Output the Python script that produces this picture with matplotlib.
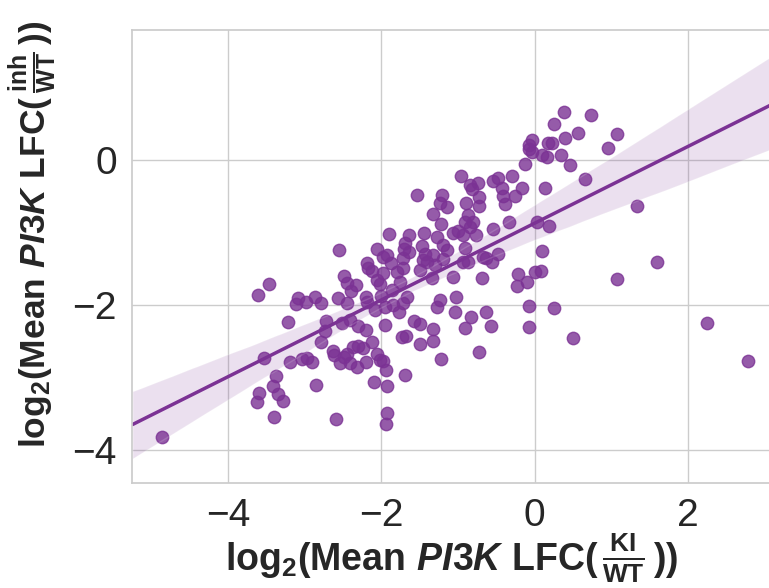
import numpy as np
import matplotlib
matplotlib.use('Agg')
import matplotlib.pyplot as plt
import seaborn as sns

# log2 mean PI3K LFC, KI vs WT (x) and inhibitor vs WT (y)
ki_lfc = [
    -4.86, -3.61, -3.47, -3.53, -3.37, -3.41, -3.35, -3.28, -3.60, -3.62,
    -3.40, -3.21, -3.19, -3.04, -2.97, -2.91, -2.85, -2.59, -3.09, -3.11,
    -2.98, -2.87, -2.79, -2.57, -2.45, -2.72, -2.74, -2.78, -2.51, -2.41,
    -2.31, -2.20, -2.63, -2.62, -2.54, -2.49, -2.45, -2.41, -2.37, -2.31,
    -2.24, -2.32, -2.20, -2.12, -2.06, -2.02, -1.98, -1.94, -2.10, -1.93,
    -1.69, -1.92, -1.94, -2.55, -2.48, -2.45, -2.33, -2.40, -2.20, -2.19,
    -2.18, -2.12, -2.05, -1.98, -1.93, -1.88, -1.98, -2.06, -2.02, -1.90,
    -1.86, -1.80, -1.76, -1.72, -1.72, -1.69, -1.71, -1.64, -1.64, -1.67,
    -1.85, -1.77, -1.95, -1.95, -1.72, -1.54, -1.45, -1.47, -1.43, -1.50,
    -1.46, -1.33, -1.28, -1.20, -1.20, -1.15, -1.33, -1.22, -1.21, -1.24,
    -1.15, -1.34, -1.41, -1.30, -1.24, -1.28, -1.02, -1.07, -1.04, -0.83,
    -0.63, -0.91, -0.57, -1.58, -1.50, -1.33, -1.73, -1.68, -1.33, -1.49,
    -1.22, -0.73, -0.96, -0.85, -0.74, -0.82, -0.55, -0.48, -0.43, -0.30,
    -0.42, -0.39, -0.26, -0.16, 0.14, -0.89, -0.72, -0.73, -0.87, -0.91,
    -0.81, -0.85, -1.07, -1.00, -0.94, -0.76, -0.55, -0.33, 0.03, 0.18,
    0.10, -0.91, -0.94, -0.87, -0.68, -0.63, -0.48, -0.56, -0.69, -0.22,
    -0.10, -0.23, 0.01, 0.08, -0.08, 0.25, -0.07, 0.50, -0.13, -0.04,
    -0.08, -0.07, -0.03, 0.17, 0.22, 0.10, 0.16, 0.34, 0.40, 0.25,
    0.38, 0.73, 0.56, 1.07, 0.95, 0.46, 0.66, 1.33, 1.60, 1.07,
    2.24, 2.78, -2.19, -2.08, -2.01,
]
inh_lfc = [
    -3.82, -1.86, -1.71, -2.73, -2.98, -3.12, -3.23, -3.32, -3.21, -3.34,
    -3.54, -2.23, -2.79, -2.74, -2.73, -2.79, -3.10, -3.57, -1.90, -1.99,
    -1.96, -1.89, -1.97, -1.90, -1.97, -2.22, -2.36, -2.51, -2.25, -2.21,
    -2.29, -2.34, -2.63, -2.69, -2.80, -2.72, -2.68, -2.80, -2.58, -2.57,
    -2.59, -2.86, -2.79, -2.51, -2.68, -2.76, -2.77, -2.90, -3.06, -3.12,
    -2.97, -3.49, -3.64, -1.24, -1.60, -1.70, -1.72, -1.81, -1.89, -1.42,
    -1.49, -1.53, -1.23, -1.34, -1.31, -1.42, -1.56, -1.66, -1.71, -1.02,
    -1.79, -1.54, -1.68, -1.49, -1.35, -1.14, -1.23, -1.27, -1.03, -1.89,
    -2.00, -2.10, -2.28, -2.03, -1.97, -0.48, -1.01, -1.19, -1.30, -1.52,
    -1.38, -1.31, -1.06, -1.17, -1.37, -1.24, -0.74, -0.88, -0.48, -0.59,
    -0.65, -1.63, -1.41, -1.45, -1.93, -2.03, -1.89, -1.61, -2.10, -2.17,
    -2.10, -2.32, -2.29, -2.22, -2.26, -2.33, -2.44, -2.43, -2.50, -2.54,
    -2.74, -2.65, -0.22, -0.34, -0.32, -0.40, -0.29, -0.25, -0.39, -0.22,
    -0.50, -0.61, -0.50, -0.39, -0.39, -0.59, -0.51, -0.63, -0.76, -0.86,
    -0.86, -0.92, -1.01, -0.98, -1.03, -1.03, -0.95, -0.86, -0.86, -0.91,
    -1.26, -1.21, -1.41, -1.41, -1.34, -1.35, -1.30, -1.41, -1.63, -1.57,
    -1.68, -1.74, -1.54, -1.53, -2.01, -2.04, -2.30, -2.46, -0.06, 0.28,
    0.21, 0.15, 0.11, 0.23, 0.23, 0.06, 0.04, 0.07, 0.30, 0.50,
    0.66, 0.62, 0.37, 0.36, 0.17, -0.07, -0.26, -0.63, -1.41, -1.64,
    -2.25, -2.77, -1.96, -2.07, -1.88,
]

xticks = [-4, -2, 0, 2]
yticks = [-4, -2, 0]
color = '#7b3294'

sns.set_theme(style='whitegrid')
plt.rcParams['font.family'] = ['Liberation Sans', 'DejaVu Sans']
plt.rcParams['mathtext.fontset'] = 'custom'
plt.rcParams['mathtext.rm'] = 'Liberation Sans:bold'
plt.rcParams['mathtext.bf'] = 'Liberation Sans:bold'
plt.rcParams['mathtext.it'] = 'Liberation Sans:italic:bold'

fig = plt.figure(figsize=(7.69, 5.88), dpi=100)
ax = fig.add_axes([132 / 769, 105 / 588, 639 / 769, 453 / 588])

sns.regplot(x=np.array(ki_lfc), y=np.array(inh_lfc), ax=ax, color=color,
            truncate=False, seed=0,
            scatter_kws={'s': 80, 'alpha': 0.8},
            line_kws={'lw': 2.5})

ax.set_xlim(-5.25, 3.08)
ax.set_ylim(-4.455, 1.79)
ax.set_xticks(xticks)
ax.set_yticks(yticks)
ax.tick_params(labelsize=28, pad=5)
ax.set_xlabel(r'$\mathrm{log_2(Mean\ }\mathit{PI3K}\mathrm{\ LFC(\,\frac{KI}{WT}\,))}$',
              fontsize=27, labelpad=-2)
ax.set_ylabel(r'$\mathrm{log_2(Mean\ }\mathit{PI3K}\mathrm{\ LFC(\,\frac{inh}{WT}\,))}$',
              fontsize=25.5)
ax.yaxis.set_label_coords(-0.114, 0.55)

fig.savefig('out.png', dpi=100)
